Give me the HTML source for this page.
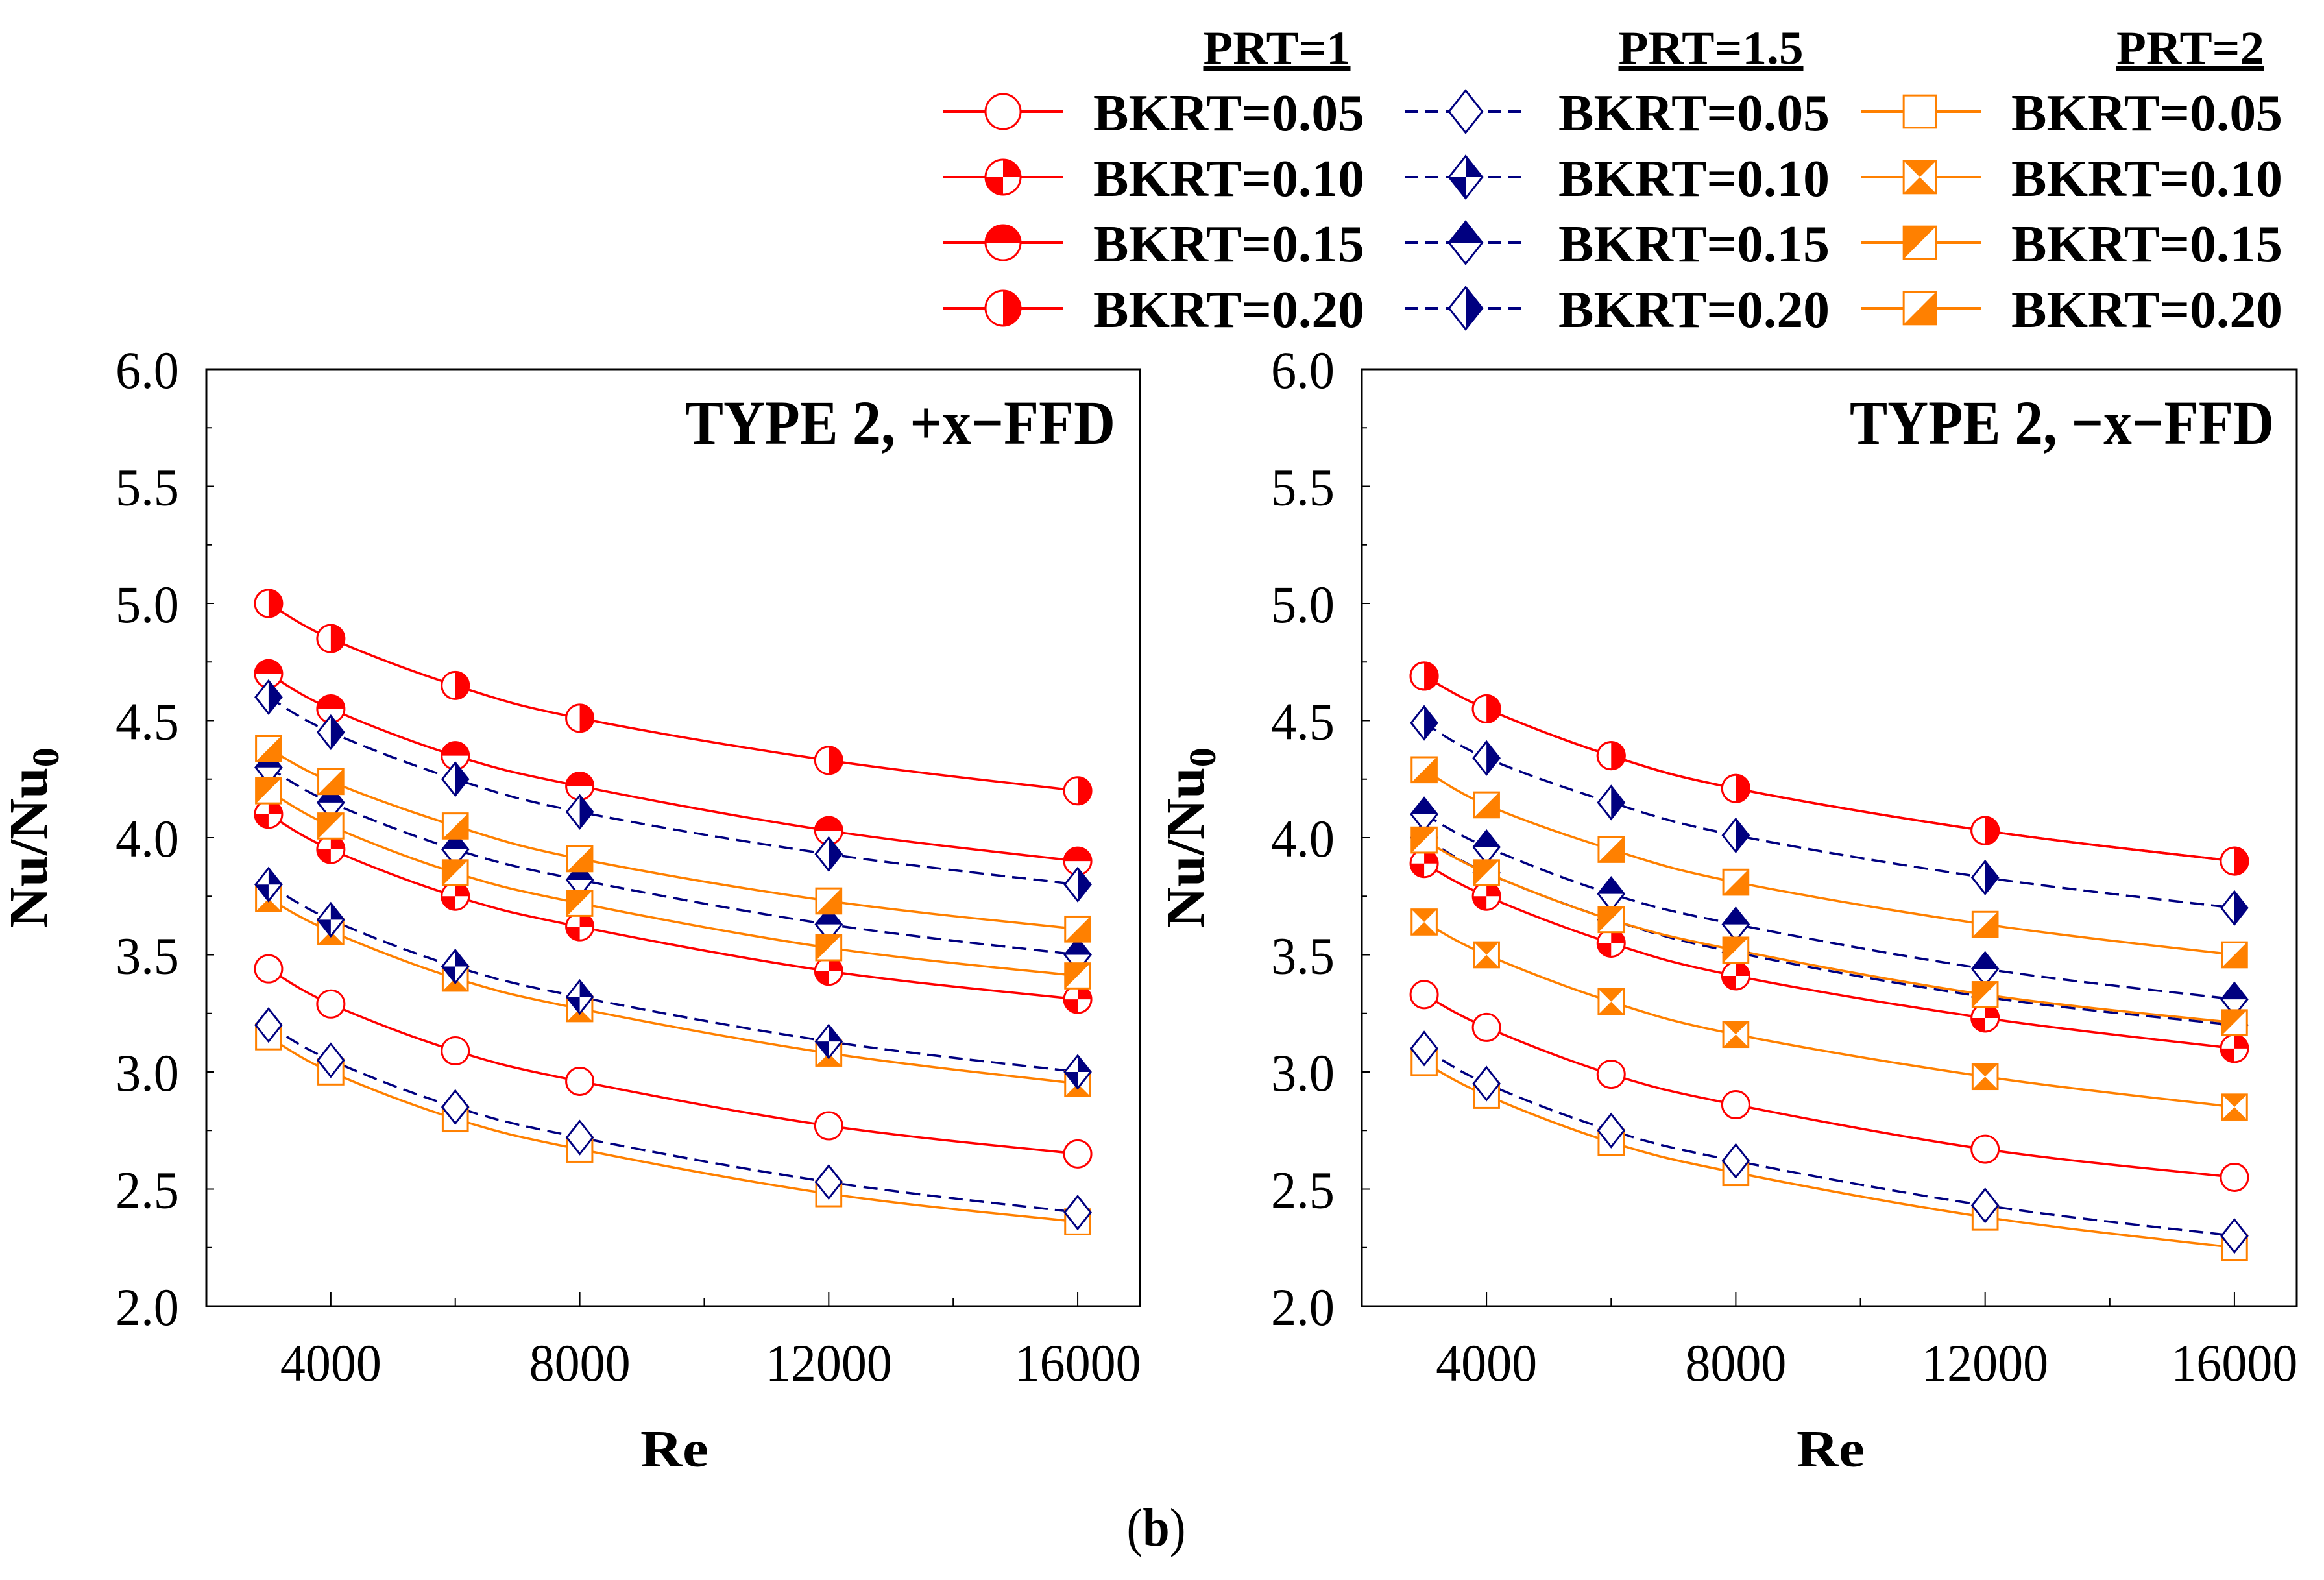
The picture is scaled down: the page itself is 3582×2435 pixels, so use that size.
<!DOCTYPE html>
<html><head><meta charset="utf-8"><style>
html,body{margin:0;padding:0;background:#fff;}
svg, svg text{font-family:"Liberation Serif","Times New Roman",Times,serif;}
</style></head><body>
<svg id="fig" width="3582" height="2430" viewBox="0 0 3582 2430" xmlns="http://www.w3.org/2000/svg">
<g id="legend"></g>
<g id="p1"></g>
<g id="p2"></g>
<text x="1782" y="2382" font-size="84" text-anchor="middle" textLength="91" lengthAdjust="spacingAndGlyphs">(<tspan font-weight="bold">b</tspan>)</text>
</svg>
<script>
const reValues = [3000, 4000, 6000, 8000, 12000, 16000];
const xTicks = [4000, 8000, 12000, 16000];
const yTicks = [2.0, 2.5, 3.0, 3.5, 4.0, 4.5, 5.0, 5.5, 6.0];
// Panel 1: +x-FFD
const p1_prt1_005 = [3.44, 3.29, 3.09, 2.96, 2.77, 2.65];
const p1_prt1_010 = [4.10, 3.95, 3.75, 3.62, 3.43, 3.31];
const p1_prt1_015 = [4.70, 4.55, 4.35, 4.22, 4.03, 3.90];
const p1_prt1_020 = [5.00, 4.85, 4.65, 4.51, 4.33, 4.20];
const p1_prt15_005 = [3.20, 3.05, 2.85, 2.72, 2.53, 2.40];
const p1_prt15_010 = [3.80, 3.65, 3.45, 3.32, 3.13, 3.00];
const p1_prt15_015 = [4.30, 4.15, 3.95, 3.82, 3.63, 3.50];
const p1_prt15_020 = [4.60, 4.45, 4.25, 4.11, 3.93, 3.80];
const p1_prt2_005 = [3.15, 3.00, 2.80, 2.67, 2.48, 2.36];
const p1_prt2_010 = [3.74, 3.60, 3.40, 3.27, 3.08, 2.95];
const p1_prt2_015 = [4.20, 4.05, 3.85, 3.72, 3.53, 3.41];
const p1_prt2_020 = [4.38, 4.24, 4.05, 3.91, 3.73, 3.61];
// Panel 2: -x-FFD
const p2_prt1_005 = [3.33, 3.19, 2.99, 2.86, 2.67, 2.55];
const p2_prt1_010 = [3.89, 3.75, 3.55, 3.41, 3.23, 3.10];
const p2_prt1_015 = [4.69, 4.55, 4.35, 4.21, 4.03, 3.90];
const p2_prt1_020 = [4.69, 4.55, 4.35, 4.21, 4.03, 3.90];
const p2_prt15_005 = [3.10, 2.95, 2.75, 2.62, 2.43, 2.30];
const p2_prt15_010 = [4.00, 3.85, 3.65, 3.51, 3.32, 3.20];
const p2_prt15_015 = [4.10, 3.96, 3.76, 3.63, 3.44, 3.31];
const p2_prt15_020 = [4.49, 4.34, 4.15, 4.01, 3.83, 3.70];
const p2_prt2_005 = [3.04, 2.90, 2.70, 2.57, 2.38, 2.25];
const p2_prt2_010 = [3.64, 3.50, 3.30, 3.16, 2.98, 2.85];
const p2_prt2_015 = [3.99, 3.85, 3.65, 3.52, 3.33, 3.21];
const p2_prt2_020 = [4.29, 4.14, 3.95, 3.81, 3.63, 3.50];

const NS = "http://www.w3.org/2000/svg";
const RED = "#ff0000", NAVY = "#000080", ORANGE = "#ff8000";
const FONT = '"Liberation Serif","Times New Roman",serif';
function mk(tag, attrs, parent) {
  const e = document.createElementNS(NS, tag);
  for (const k in attrs) e.setAttribute(k, attrs[k]);
  if (tag === "text") {
    e.setAttribute("font-family", FONT);
    if (attrs.textLength) e.setAttribute("lengthAdjust", "spacingAndGlyphs");
  }
  if (parent) parent.appendChild(e);
  return e;
}

function marker(g, kind, pattern, cx, cy, s) {
  const grp = mk("g", {}, g);
  if (kind === "circle") {
    const r = s;
    mk("circle", {cx: cx, cy: cy, r: r, fill: "#fff"}, grp);
    let d = "";
    if (pattern === 1) d = `M${cx},${cy} L${cx},${cy-r} A${r},${r} 0 0 1 ${cx+r},${cy} Z M${cx},${cy} L${cx},${cy+r} A${r},${r} 0 0 1 ${cx-r},${cy} Z`;
    if (pattern === 2) d = `M${cx-r},${cy} A${r},${r} 0 0 1 ${cx+r},${cy} Z`;
    if (pattern === 3) d = `M${cx},${cy-r} A${r},${r} 0 0 1 ${cx},${cy+r} Z`;
    if (d) mk("path", {d: d, fill: RED}, grp);
    mk("circle", {cx: cx, cy: cy, r: r, fill: "none", stroke: RED, "stroke-width": 3}, grp);
  } else if (kind === "diamond") {
    const w = s * 0.95, h = s * 1.2;
    const pts = `${cx},${cy-h} ${cx+w},${cy} ${cx},${cy+h} ${cx-w},${cy}`;
    mk("polygon", {points: pts, fill: "#fff"}, grp);
    let d = "";
    if (pattern === 1) d = `M${cx},${cy} L${cx},${cy-h} L${cx+w},${cy} Z M${cx},${cy} L${cx},${cy+h} L${cx-w},${cy} Z`;
    if (pattern === 2) d = `M${cx-w},${cy} L${cx},${cy-h} L${cx+w},${cy} Z`;
    if (pattern === 3) d = `M${cx},${cy-h} L${cx+w},${cy} L${cx},${cy+h} Z`;
    if (d) mk("path", {d: d, fill: NAVY}, grp);
    mk("polygon", {points: pts, fill: "none", stroke: NAVY, "stroke-width": 3}, grp);
  } else {
    const a = s * 0.92;
    mk("rect", {x: cx-a, y: cy-a, width: 2*a, height: 2*a, fill: "#fff"}, grp);
    let d = "";
    if (pattern === 1) d = `M${cx-a},${cy-a} L${cx+a},${cy-a} L${cx},${cy} Z M${cx-a},${cy+a} L${cx+a},${cy+a} L${cx},${cy} Z`;
    if (pattern === 2) d = `M${cx-a},${cy-a} L${cx+a},${cy-a} L${cx-a},${cy+a} Z`;
    if (pattern === 3) d = `M${cx+a},${cy-a} L${cx+a},${cy+a} L${cx-a},${cy+a} Z`;
    if (d) mk("path", {d: d, fill: ORANGE}, grp);
    mk("rect", {x: cx-a, y: cy-a, width: 2*a, height: 2*a, fill: "none", stroke: ORANGE, "stroke-width": 3}, grp);
  }
  return grp;
}

function smoothPath(pts) {
  let d = `M${pts[0][0]},${pts[0][1]}`;
  for (let i = 0; i < pts.length - 1; i++) {
    const p0 = pts[Math.max(0, i-1)], p1 = pts[i], p2 = pts[i+1], p3 = pts[Math.min(pts.length-1, i+2)];
    const t = 0.18;
    const c1x = p1[0] + (p2[0]-p0[0])*t, c1y = p1[1] + (p2[1]-p0[1])*t;
    const c2x = p2[0] - (p3[0]-p1[0])*t, c2y = p2[1] - (p3[1]-p1[1])*t;
    d += ` C${c1x},${c1y} ${c2x},${c2y} ${p2[0]},${p2[1]}`;
  }
  return d;
}

function drawPanel(gid, L, R, title, titleRight, titleW, ylabX, series) {
  const g = document.getElementById(gid);
  const T = 569, B = 2013;
  const xs = v => L + (v - 2000) / 15000 * (R - L);
  const ys = v => B - (v - 2.0) / 4.0 * (B - T);
  for (let v = 4000; v <= 17000; v += 2000) {
    const major = v % 4000 === 0;
    const t = mk("line", {x1: xs(v), x2: xs(v), y1: B, y2: B - (major ? 22 : 13), stroke: "#000", "stroke-width": 2}, g);
    
    
  }
  for (let v = 2.25; v < 6.0; v += 0.25) {
    const major = Math.abs(v*2 - Math.round(v*2)) < 1e-6;
    const t = mk("line", {x1: L, x2: L + (major ? 12 : 8), y1: ys(v), y2: ys(v), stroke: "#000", "stroke-width": 2}, g);
    
    
  }
  xTicks.forEach(v => {
    const s = String(v);
    const t = mk("text", {x: xs(v), y: 2128, "font-size": 82, "text-anchor": "middle", textLength: s.length * 39}, g);
    t.textContent = s;
    
    
  });
  yTicks.forEach(v => {
    const t = mk("text", {x: L - 42, y: ys(v) + 29, "font-size": 82, "text-anchor": "end", textLength: 98}, g);
    t.textContent = v.toFixed(1);
    
    
  });
  const xl = mk("text", {x: (L+R)/2 + 2, y: 2260, "font-size": 80, "font-weight": "bold", "text-anchor": "middle", textLength: 105}, g);
  xl.textContent = "Re";
  
  
  const yl = mk("text", {x: 0, y: 0, "font-size": 84, "font-weight": "bold", "text-anchor": "middle", textLength: 278, transform: `translate(${ylabX},1291) rotate(-90)`}, g);
  yl.innerHTML = 'Nu/Nu<tspan font-size="58" dy="18">0</tspan>';
  
  
  const tt = mk("text", {x: titleRight, y: 684, "font-size": 96, "font-weight": "bold", "text-anchor": "end", textLength: titleW}, g);
  tt.textContent = title;
  
  
  series.forEach(s => {
    const pts = reValues.map((x, i) => [xs(x), ys(s.vals[i])]);
    const p = mk("path", {d: smoothPath(pts), fill: "none", stroke: s.color, "stroke-width": 3.5}, g);
    if (s.dash) p.setAttribute("stroke-dasharray", "22 11");
    
    
  });
  series.forEach(s => {
    reValues.forEach((x, i) => {
      const m = marker(g, s.kind, s.pattern, xs(x), ys(s.vals[i]), 21);
      
      
    });
  });
  const fr = mk("rect", {x: L, y: T, width: R - L, height: B - T, fill: "none", stroke: "#000", "stroke-width": 3}, g);
  
  
}

function seriesList(a) {
  return [
    {name: "prt2-bkrt005", kind: "square", pattern: 0, color: ORANGE, vals: a[8]},
    {name: "prt15-bkrt005", kind: "diamond", pattern: 0, color: NAVY, dash: true, vals: a[4]},
    {name: "prt1-bkrt005", kind: "circle", pattern: 0, color: RED, vals: a[0]},
    {name: "prt2-bkrt010", kind: "square", pattern: 1, color: ORANGE, vals: a[9]},
    {name: "prt15-bkrt010", kind: "diamond", pattern: 1, color: NAVY, dash: true, vals: a[5]},
    {name: "prt1-bkrt010", kind: "circle", pattern: 1, color: RED, vals: a[1]},
    {name: "prt15-bkrt015", kind: "diamond", pattern: 2, color: NAVY, dash: true, vals: a[6]},
    {name: "prt2-bkrt015", kind: "square", pattern: 2, color: ORANGE, vals: a[10]},
    {name: "prt1-bkrt015", kind: "circle", pattern: 2, color: RED, vals: a[2]},
    {name: "prt15-bkrt020", kind: "diamond", pattern: 3, color: NAVY, dash: true, vals: a[7]},
    {name: "prt2-bkrt020", kind: "square", pattern: 3, color: ORANGE, vals: a[11]},
    {name: "prt1-bkrt020", kind: "circle", pattern: 3, color: RED, vals: a[3]}
  ];
}
drawPanel("p1", 318, 1757, "TYPE 2, +x\u2212FFD", 1719, 663, 72, seriesList([
  p1_prt1_005, p1_prt1_010, p1_prt1_015, p1_prt1_020,
  p1_prt15_005, p1_prt15_010, p1_prt15_015, p1_prt15_020,
  p1_prt2_005, p1_prt2_010, p1_prt2_015, p1_prt2_020]));
drawPanel("p2", 2099, 3540, "TYPE 2, \u2212x\u2212FFD", 3505, 654, 1855, seriesList([
  p2_prt1_005, p2_prt1_010, p2_prt1_015, p2_prt1_020,
  p2_prt15_005, p2_prt15_010, p2_prt15_015, p2_prt15_020,
  p2_prt2_005, p2_prt2_010, p2_prt2_015, p2_prt2_020]));

const lg = document.getElementById("legend");
const cols = [
  {head: "PRT=1", hx: 1968, hw: 227, kind: "circle", color: RED, dash: false, l1: 1453, l2: 1639, mx: 1546, tx: 1685},
  {head: "PRT=1.5", hx: 2637, hw: 285, kind: "diamond", color: NAVY, dash: true, l1: 2165, l2: 2346, mx: 2259, tx: 2402},
  {head: "PRT=2", hx: 3376, hw: 228, kind: "square", color: ORANGE, dash: false, l1: 2868, l2: 3053, mx: 2959, tx: 3100}
];
const bkrtLabels = ["BKRT=0.05", "BKRT=0.10", "BKRT=0.15", "BKRT=0.20"];
cols.forEach(c => {
  const h = mk("text", {x: c.hx, y: 98, "font-size": 72, "font-weight": "bold", "text-anchor": "middle", "text-decoration": "underline", textLength: c.hw}, lg);
  h.textContent = c.head;
  
  
  bkrtLabels.forEach((lab, i) => {
    const cy = 172 + i * 101;
    const e = mk("g", {}, lg);
    
    
    const ln = mk("line", {x1: c.l1, x2: c.l2, y1: cy, y2: cy, stroke: c.color, "stroke-width": 4}, e);
    if (c.dash) ln.setAttribute("stroke-dasharray", "20 12");
    marker(e, c.kind, i, c.mx, cy, 27);
    const t = mk("text", {x: c.tx, y: cy + 29, "font-size": 80, "font-weight": "bold", textLength: 418}, e);
    t.textContent = lab;
  });
});
</script>
</body></html>
